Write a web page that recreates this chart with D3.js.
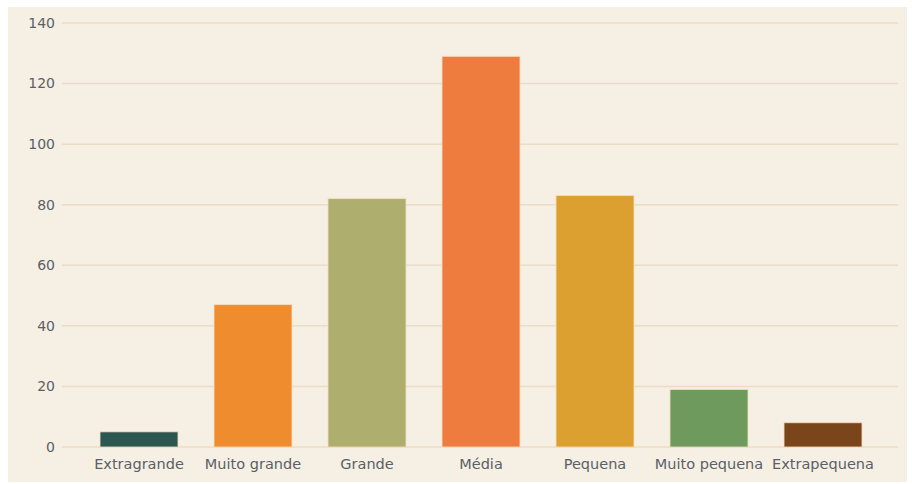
<!DOCTYPE html>
<html>
<head>
<meta charset="utf-8">
<script src="https://cdn.jsdelivr.net/npm/d3@7"></script>
<style>
  body { margin: 0; background: #fff; }
  svg { display: block; }
</style>
</head>
<body>
<div class="chart"></div>
<script>
var svgWidth = 912;
var svgHeight = 484;

// data
var categories = ["Extragrande", "Muito grande", "Grande", "Média", "Pequena", "Muito pequena", "Extrapequena"];
var values = [5, 47, 82, 129, 83, 19, 8];
var barColors = ["#2b5750", "#ef8d2e", "#aeae6e", "#ee7c3e", "#dca031", "#6e9a5e", "#7a451b"];
var yTicks = [0, 20, 40, 60, 80, 100, 120, 140];

var svg = d3.select(".chart")
  .append("svg")
  .attr("width", svgWidth)
  .attr("height", svgHeight);

// cream panel
svg.append("rect")
  .attr("x", 8)
  .attr("y", 7)
  .attr("width", 899)
  .attr("height", 475)
  .attr("fill", "#f5efe4");

var yScale = d3.scaleLinear()
  .domain([0, 140])
  .range([447, 23]);

var xScale = d3.scaleBand()
  .domain(categories)
  .range([82, 880])
  .paddingInner(0.316)
  .paddingOuter(0.158);

// gridlines
svg.append("g")
  .selectAll("line")
  .data(yTicks)
  .enter()
  .append("line")
  .attr("x1", 62)
  .attr("x2", 898)
  .attr("y1", function(d) { return yScale(d); })
  .attr("y2", function(d) { return yScale(d); })
  .attr("stroke", "#ecdcc3")
  .attr("stroke-width", 1.5);

// y labels
svg.append("g")
  .selectAll("text")
  .data(yTicks)
  .enter()
  .append("text")
  .text(function(d) { return d; })
  .attr("x", 55)
  .attr("y", function(d) { return yScale(d); })
  .attr("dy", "0.35em")
  .attr("text-anchor", "end")
  .attr("font-family", "DejaVu Sans, sans-serif")
  .attr("font-size", 14)
  .attr("fill", "#5a5f68");

// bars
svg.append("g")
  .selectAll("rect")
  .data(values)
  .enter()
  .append("rect")
  .attr("x", function(d, i) { return xScale(categories[i]); })
  .attr("y", function(d) { return yScale(d); })
  .attr("width", xScale.bandwidth())
  .attr("height", function(d) { return yScale(0) - yScale(d); })
  .attr("fill", function(d, i) { return barColors[i]; })
  .attr("stroke", "#f7dcc0")
  .attr("stroke-width", 0.8);

// x labels
svg.append("g")
  .selectAll("text")
  .data(categories)
  .enter()
  .append("text")
  .text(function(d) { return d; })
  .attr("x", function(d) { return xScale(d) + xScale.bandwidth() / 2; })
  .attr("y", 469)
  .attr("text-anchor", "middle")
  .attr("font-family", "DejaVu Sans, sans-serif")
  .attr("font-size", 14.5)
  .attr("fill", "#5a5f68");
</script>
</body>
</html>
